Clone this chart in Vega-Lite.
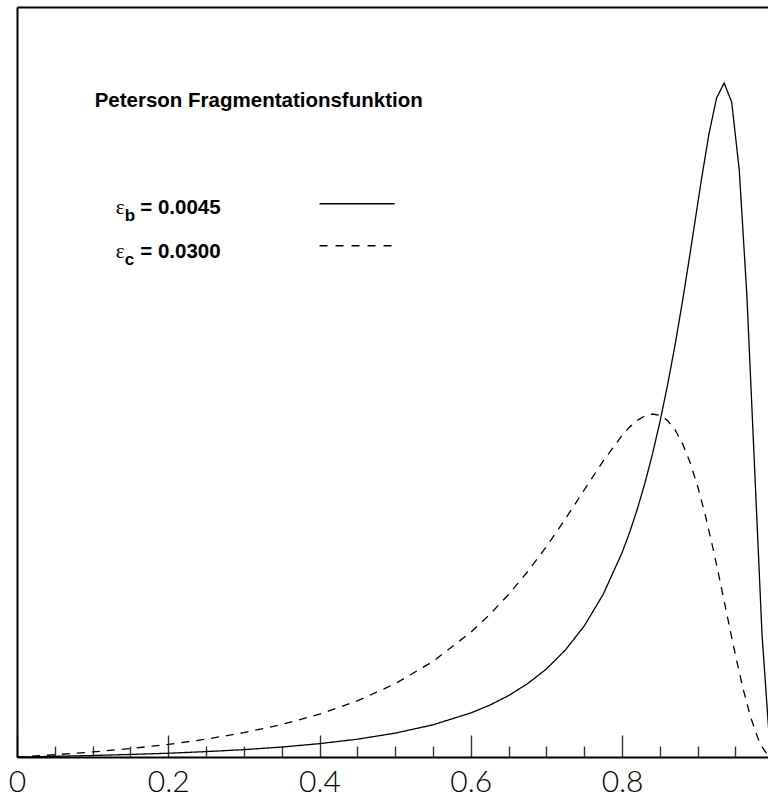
{
  "$schema": "https://vega.github.io/schema/vega-lite/v6.json",
  "autosize": {"type": "none"},
  "width": 751,
  "height": 750,
  "padding": {"left": 17, "top": 7, "right": 0, "bottom": 39},
  "background": "white",
  "config": {"view": {"stroke": null}},
  "datasets": {
    "one": [{"k": 1}],
    "curves": [
      {"z": 0, "f": 0, "s": "b"},
      {"z": 0.005, "f": 0.0001, "s": "b"},
      {"z": 0.02, "f": 0.0003, "s": "b"},
      {"z": 0.05, "f": 0.0009, "s": "b"},
      {"z": 0.1, "f": 0.0020, "s": "b"},
      {"z": 0.15, "f": 0.0034, "s": "b"},
      {"z": 0.2, "f": 0.0050, "s": "b"},
      {"z": 0.25, "f": 0.0072, "s": "b"},
      {"z": 0.3, "f": 0.0098, "s": "b"},
      {"z": 0.35, "f": 0.0133, "s": "b"},
      {"z": 0.4, "f": 0.0178, "s": "b"},
      {"z": 0.45, "f": 0.0237, "s": "b"},
      {"z": 0.5, "f": 0.0318, "s": "b"},
      {"z": 0.55, "f": 0.0429, "s": "b"},
      {"z": 0.6, "f": 0.0587, "s": "b"},
      {"z": 0.625, "f": 0.0691, "s": "b"},
      {"z": 0.65, "f": 0.0819, "s": "b"},
      {"z": 0.675, "f": 0.0977, "s": "b"},
      {"z": 0.7, "f": 0.1174, "s": "b"},
      {"z": 0.725, "f": 0.1425, "s": "b"},
      {"z": 0.75, "f": 0.1747, "s": "b"},
      {"z": 0.775, "f": 0.2167, "s": "b"},
      {"z": 0.8, "f": 0.2723, "s": "b"},
      {"z": 0.81, "f": 0.2994, "s": "b"},
      {"z": 0.82, "f": 0.3299, "s": "b"},
      {"z": 0.83, "f": 0.3643, "s": "b"},
      {"z": 0.84, "f": 0.4030, "s": "b"},
      {"z": 0.85, "f": 0.4464, "s": "b"},
      {"z": 0.86, "f": 0.4950, "s": "b"},
      {"z": 0.87, "f": 0.5489, "s": "b"},
      {"z": 0.88, "f": 0.6080, "s": "b"},
      {"z": 0.89, "f": 0.6716, "s": "b"},
      {"z": 0.9, "f": 0.7374, "s": "b"},
      {"z": 0.905, "f": 0.7701, "s": "b"},
      {"z": 0.915, "f": 0.8312, "s": "b"},
      {"z": 0.925, "f": 0.8785, "s": "b"},
      {"z": 0.935, "f": 0.8987, "s": "b"},
      {"z": 0.945, "f": 0.8731, "s": "b"},
      {"z": 0.955, "f": 0.7825, "s": "b"},
      {"z": 0.965, "f": 0.6168, "s": "b"},
      {"z": 0.975, "f": 0.3923, "s": "b"},
      {"z": 0.985, "f": 0.1652, "s": "b"},
      {"z": 0.995, "f": 0.0199, "s": "b"},
      {"z": 0, "f": 0, "s": "c"},
      {"z": 0.005, "f": 0.0003, "s": "c"},
      {"z": 0.02, "f": 0.0011, "s": "c"},
      {"z": 0.05, "f": 0.0030, "s": "c"},
      {"z": 0.1, "f": 0.0067, "s": "c"},
      {"z": 0.15, "f": 0.0113, "s": "c"},
      {"z": 0.2, "f": 0.0168, "s": "c"},
      {"z": 0.25, "f": 0.0238, "s": "c"},
      {"z": 0.3, "f": 0.0324, "s": "c"},
      {"z": 0.35, "f": 0.0433, "s": "c"},
      {"z": 0.4, "f": 0.0571, "s": "c"},
      {"z": 0.45, "f": 0.0748, "s": "c"},
      {"z": 0.5, "f": 0.0977, "s": "c"},
      {"z": 0.55, "f": 0.1274, "s": "c"},
      {"z": 0.6, "f": 0.1663, "s": "c"},
      {"z": 0.625, "f": 0.1899, "s": "c"},
      {"z": 0.65, "f": 0.2167, "s": "c"},
      {"z": 0.675, "f": 0.2470, "s": "c"},
      {"z": 0.7, "f": 0.2806, "s": "c"},
      {"z": 0.725, "f": 0.3173, "s": "c"},
      {"z": 0.75, "f": 0.3561, "s": "c"},
      {"z": 0.775, "f": 0.3945, "s": "c"},
      {"z": 0.8, "f": 0.4288, "s": "c"},
      {"z": 0.81, "f": 0.4399, "s": "c"},
      {"z": 0.82, "f": 0.4488, "s": "c"},
      {"z": 0.83, "f": 0.4548, "s": "c"},
      {"z": 0.84, "f": 0.4573, "s": "c"},
      {"z": 0.85, "f": 0.4556, "s": "c"},
      {"z": 0.86, "f": 0.4488, "s": "c"},
      {"z": 0.87, "f": 0.4364, "s": "c"},
      {"z": 0.88, "f": 0.4178, "s": "c"},
      {"z": 0.89, "f": 0.3926, "s": "c"},
      {"z": 0.9, "f": 0.3608, "s": "c"},
      {"z": 0.91, "f": 0.3228, "s": "c"},
      {"z": 0.92, "f": 0.2795, "s": "c"},
      {"z": 0.93, "f": 0.2325, "s": "c"},
      {"z": 0.94, "f": 0.1837, "s": "c"},
      {"z": 0.95, "f": 0.1356, "s": "c"},
      {"z": 0.96, "f": 0.0912, "s": "c"},
      {"z": 0.97, "f": 0.0532, "s": "c"},
      {"z": 0.98, "f": 0.0242, "s": "c"},
      {"z": 0.985, "f": 0.0137, "s": "c"},
      {"z": 0.99, "f": 0.0061, "s": "c"},
      {"z": 0.995, "f": 0.0015, "s": "c"}
    ]
  },
  "resolve": {"axis": {"x": "independent", "y": "independent"}},
  "layer": [
    {
      "data": {"name": "curves"},
      "mark": {"type": "line", "clip": true, "color": "black", "strokeWidth": 1.3},
      "encoding": {
        "x": {
          "field": "z", "type": "quantitative",
          "scale": {"domain": [0, 0.993], "nice": false, "zero": false},
          "axis": {
            "orient": "bottom", "title": null,
            "values": [0, 0.2, 0.4, 0.6, 0.8],
            "format": ".1~f",
            "domain": true, "domainColor": "black", "domainWidth": 2,
            "ticks": true, "tickSize": -22, "tickColor": "#333", "tickWidth": 1.4,
            "grid": false,
            "labelFont": "Lato", "labelFontWeight": 300, "labelFontSize": 30,
            "labelColor": "black", "labelBaseline": "alphabetic",
            "labelPadding": 56, "labelFlush": false
          }
        },
        "y": {
          "field": "f", "type": "quantitative",
          "scale": {"domain": [0, 1], "nice": false, "zero": true},
          "axis": {
            "orient": "left", "title": null, "ticks": false, "labels": false, "grid": false,
            "domain": true, "domainColor": "black", "domainWidth": 2
          }
        },
        "detail": {"field": "s"},
        "strokeDash": {
          "field": "s", "type": "nominal",
          "scale": {"domain": ["b", "c"], "range": [[1, 0], [8, 7]]},
          "legend": null
        }
      }
    },
    {
      "data": {"name": "one"},
      "mark": {"type": "rule", "color": "black", "strokeWidth": 1.3},
      "encoding": {
        "x": {
          "datum": 0.4, "type": "quantitative",
          "axis": {
            "orient": "bottom", "title": null,
            "values": [0.05, 0.1, 0.15, 0.25, 0.3, 0.35, 0.45, 0.5, 0.55, 0.65, 0.7, 0.75, 0.85, 0.9, 0.95],
            "domain": false, "labels": false, "grid": false,
            "ticks": true, "tickSize": -11, "tickColor": "#333", "tickWidth": 1.4
          }
        },
        "x2": {"datum": 0.4994},
        "y": {"datum": 0.7377, "type": "quantitative", "axis": null}
      }
    },
    {
      "data": {"name": "one"},
      "mark": {"type": "rule", "color": "black", "strokeWidth": 1.3, "strokeDash": [8, 8]},
      "encoding": {
        "x": {
          "datum": 0.4, "type": "quantitative",
          "axis": {
            "orient": "top", "title": null, "values": [],
            "domain": true, "domainColor": "black", "domainWidth": 2,
            "labels": false, "ticks": false, "grid": false
          }
        },
        "x2": {"datum": 0.4955},
        "y": {"datum": 0.6817, "type": "quantitative", "axis": null}
      }
    },
    {
      "data": {"name": "one"},
      "mark": {"type": "text", "align": "left", "baseline": "alphabetic", "font": "Liberation Sans", "fontWeight": "bold", "fontSize": 20.5, "color": "black"},
      "encoding": {
        "x": {"datum": 0.1027, "type": "quantitative", "axis": null},
        "y": {"datum": 0.8671, "type": "quantitative", "axis": null},
        "text": {"value": "Peterson Fragmentationsfunktion"}
      }
    },
    {
      "data": {"name": "one"},
      "mark": {"type": "text", "align": "left", "baseline": "alphabetic", "font": "Liberation Serif", "fontWeight": "normal", "fontSize": 21, "color": "black"},
      "encoding": {
        "x": {"datum": 0.1305, "type": "quantitative", "axis": null},
        "y": {"datum": 0.7244, "type": "quantitative", "axis": null},
        "text": {"value": "ε"}
      }
    },
    {
      "data": {"name": "one"},
      "mark": {"type": "text", "align": "left", "baseline": "alphabetic", "font": "Liberation Serif", "fontWeight": "normal", "fontSize": 21, "color": "black"},
      "encoding": {
        "x": {"datum": 0.1305, "type": "quantitative", "axis": null},
        "y": {"datum": 0.6653, "type": "quantitative", "axis": null},
        "text": {"value": "ε"}
      }
    },
    {
      "data": {"name": "one"},
      "mark": {"type": "text", "align": "left", "baseline": "alphabetic", "font": "Liberation Sans", "fontWeight": "bold", "fontSize": 17, "color": "black"},
      "encoding": {
        "x": {"datum": 0.1425, "type": "quantitative", "axis": null},
        "y": {"datum": 0.7150, "type": "quantitative", "axis": null},
        "text": {"value": "b"}
      }
    },
    {
      "data": {"name": "one"},
      "mark": {"type": "text", "align": "left", "baseline": "alphabetic", "font": "Liberation Sans", "fontWeight": "bold", "fontSize": 17, "color": "black"},
      "encoding": {
        "x": {"datum": 0.1425, "type": "quantitative", "axis": null},
        "y": {"datum": 0.6563, "type": "quantitative", "axis": null},
        "text": {"value": "c"}
      }
    },
    {
      "data": {"name": "one"},
      "mark": {"type": "text", "align": "left", "baseline": "alphabetic", "font": "Liberation Sans", "fontWeight": "bold", "fontSize": 20.5, "color": "black"},
      "encoding": {
        "x": {"datum": 0.1630, "type": "quantitative", "axis": null},
        "y": {"datum": 0.7244, "type": "quantitative", "axis": null},
        "text": {"value": "= 0.0045"}
      }
    },
    {
      "data": {"name": "one"},
      "mark": {"type": "text", "align": "left", "baseline": "alphabetic", "font": "Liberation Sans", "fontWeight": "bold", "fontSize": 20.5, "color": "black"},
      "encoding": {
        "x": {"datum": 0.1630, "type": "quantitative", "axis": null},
        "y": {"datum": 0.6653, "type": "quantitative", "axis": null},
        "text": {"value": "= 0.0300"}
      }
    }
  ]
}
